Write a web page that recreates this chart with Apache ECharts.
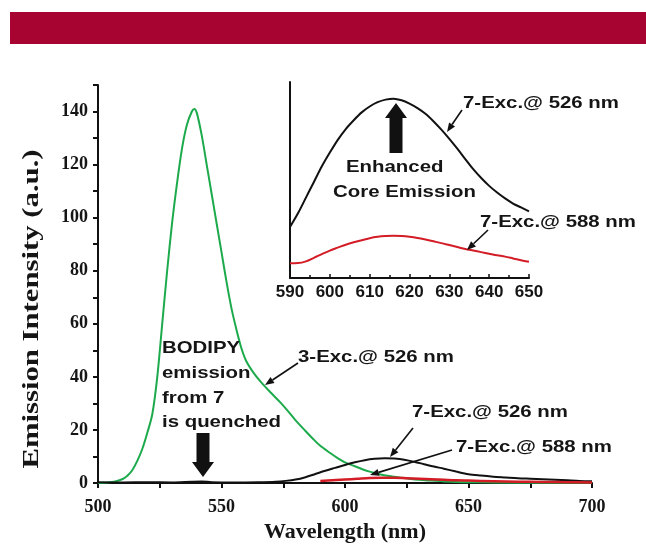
<!DOCTYPE html>
<html><head><meta charset="utf-8">
<script src="https://cdn.jsdelivr.net/npm/echarts@6/dist/echarts.min.js"></script>
<style>html,body{margin:0;padding:0;background:#fff}#c{width:646px;height:544px}</style>
</head><body><div id="c"></div>
<script>
// ---- Main panel data (wavelength nm, intensity a.u.) ----
const greenX = [500,504,507,510,512,514,516,518,520,522,524,526,528,530,532,534,536,538,539,540,542,544,546,548,550,552,554,556,558,560,563,566,570,574,577,580,584,587,590,594,597,600,604,607,610,614,618,622,626,630,635,640,645,650,660,680,700];
const greenY = [0,0.2,0.6,1.5,2.8,5,8.5,13,19,26,40,60,80,98,113,126,135,140,141,139.5,131,120,109,98,87,76,66,58,51,46,41.5,38,34,30.2,27,23.6,19.6,16.7,14,11.3,9.4,7.8,6.3,5.2,4.3,3.3,2.6,2.1,1.6,1.2,0.9,0.6,0.4,0.3,0.2,0.1,0.1];
const black526X = [500,510,520,530,538,542,546,555,565,572,576,580,584,588,592,596,600,604,608,612,616,620,624,628,632,636,640,645,650,655,660,665,670,675,680,685,690,695,700];
const black526Y = [0.3,0.2,0.3,0.2,0.5,0.6,0.3,0.2,0.3,0.5,0.8,1.3,2.2,3.4,4.6,5.7,6.8,7.8,8.6,9.1,9.3,9.2,8.8,8.0,7.1,6.2,5.4,4.3,3.3,2.8,2.4,2.1,1.8,1.6,1.4,1.2,1.0,0.8,0.7];
const red588X = [590,595,600,605,610,615,620,625,630,635,640,645,650,660,670,680,690,700];
const red588Y = [0.8,1.0,1.3,1.6,1.9,2.0,2.0,1.8,1.6,1.4,1.2,1.0,0.9,0.7,0.5,0.4,0.3,0.2];
// ---- Inset data (590-650 nm, relative scale) ----
const insetX = [590,592,594,596,598,600,602,604,606,608,610,612,614,616,618,620,622,624,626,628,630,632,634,636,638,640,642,644,646,648,650];
const insetBlackY = [26,33,41,49,57,64,70.5,76,80.5,84.5,87.5,89.7,91,91.5,90.7,89,86.7,83.8,80,75.7,71,66,60.7,55.5,51,47,43.6,40.6,38,36,34];
const insetRedY = [7.5,7.6,8.5,10.3,12.2,14,15.5,17,18.2,19.3,20.3,21,21.4,21.6,21.4,21,20.4,19.6,18.7,17.8,16.8,15.8,14.8,14,13.2,12.4,11.6,10.9,10,9.1,8.3];
// ---- Axis ticks ----
const mainXTicks = {min:500, max:700, interval:50};
const mainYTicks = {min:0, max:150, interval:20};
const insetXTicks = {min:590, max:650, interval:10};

const pairs = (xs, ys) => xs.map((x, i) => [x, ys[i]]);
const GREEN = '#1daa4c', RED = '#d31c25', BLACK = '#111';
const serif = '"Liberation Serif", "Times New Roman", serif';
const sans = '"Liberation Sans", Arial, sans-serif';

function txt(s, x, y) {
  return {type:'text', x:x, y:y, scaleX:1.2, z:50,
    style:{text:s, fill:'#151515', font:'bold 17px ' + sans, textAlign:'left', textVerticalAlign:'middle'}};
}
function arrow(x1, y1, x2, y2) {
  const a = Math.atan2(y2 - y1, x2 - x1), L = 9, W = 3.6;
  const bx = x2 - L * Math.cos(a), by = y2 - L * Math.sin(a);
  const px = -Math.sin(a), py = Math.cos(a);
  return [
    {type:'line', z:50, shape:{x1:x1, y1:y1, x2:bx, y2:by}, style:{stroke:'#111', lineWidth:1.6}},
    {type:'polygon', z:50, shape:{points:[[x2,y2],[bx+px*W,by+py*W],[bx-px*W,by-py*W]]}, style:{fill:'#111'}}
  ];
}
function bigArrow(cx, tip, base, end) {
  const hw = 11, sw = 6.5;
  return {type:'polygon', z:50, shape:{points:[[cx,tip],[cx+hw,base],[cx+sw,base],[cx+sw,end],[cx-sw,end],[cx-sw,base],[cx-hw,base]]}, style:{fill:'#111'}};
}

const chart = echarts.init(document.getElementById('c'), null, {renderer:'canvas'});
const axisLineStyle = {color:'#111', width:2};
chart.setOption({
  animation:false,
  backgroundColor:'#fff',
  grid:[
    {left:98, right:54, top:85, bottom:61, containLabel:false, outerBoundsMode:'none'},
    {left:290, right:117, top:82, bottom:266, containLabel:false, outerBoundsMode:'none'}
  ],
  xAxis:[
    {type:'value', gridIndex:0, min:mainXTicks.min, max:mainXTicks.max, interval:mainXTicks.interval,
     name:'Wavelength (nm)', nameLocation:'middle', nameGap:36,
     nameTextStyle:{fontFamily:serif, fontWeight:'bold', fontSize:22, color:'#151515'},
     axisLine:{lineStyle:axisLineStyle}, axisTick:{show:true, length:5, lineStyle:{color:'#111', width:2}},
     minorTick:{show:true, splitNumber:2, length:5, lineStyle:{color:'#111', width:2}},
     splitLine:{show:false}, minorSplitLine:{show:false},
     axisLabel:{fontFamily:serif, fontWeight:'bold', fontSize:18, color:'#151515', margin:15}},
    {type:'value', gridIndex:1, min:insetXTicks.min, max:insetXTicks.max, interval:insetXTicks.interval,
     axisLine:{lineStyle:axisLineStyle}, axisTick:{show:true, inside:true, length:4, lineStyle:{color:'#111', width:1.5}},
     minorTick:{show:true, splitNumber:2, length:3, lineStyle:{color:'#111', width:1.5}},
     splitLine:{show:false},
     axisLabel:{fontFamily:sans, fontWeight:'bold', fontSize:17, color:'#151515', margin:6}}
  ],
  yAxis:[
    {type:'value', gridIndex:0, min:mainYTicks.min, max:mainYTicks.max, interval:mainYTicks.interval,
     axisLine:{show:true, lineStyle:axisLineStyle}, axisTick:{show:true, length:5, lineStyle:{color:'#111', width:2}},
     minorTick:{show:true, splitNumber:2, length:5, lineStyle:{color:'#111', width:2}},
     splitLine:{show:false}, minorSplitLine:{show:false},
     axisLabel:{fontFamily:serif, fontWeight:'bold', fontSize:18, color:'#151515', margin:10, showMaxLabel:false}},
    {type:'value', gridIndex:1, min:0, max:100,
     axisLine:{show:true, lineStyle:axisLineStyle}, axisTick:{show:false}, axisLabel:{show:false}, splitLine:{show:false}}
  ],
  series:[
    {type:'line', name:'3-Exc.@ 526 nm', xAxisIndex:0, yAxisIndex:0, data:pairs(greenX, greenY), showSymbol:false, smooth:0.3, lineStyle:{color:GREEN, width:2}, z:2},
    {type:'line', name:'7-Exc.@ 526 nm', xAxisIndex:0, yAxisIndex:0, data:pairs(black526X, black526Y), showSymbol:false, smooth:0.3, lineStyle:{color:BLACK, width:2}, z:3},
    {type:'line', name:'7-Exc.@ 588 nm', xAxisIndex:0, yAxisIndex:0, data:pairs(red588X, red588Y), showSymbol:false, smooth:0.3, lineStyle:{color:RED, width:2.5}, z:4},
    {type:'line', name:'inset 7-Exc.@ 526 nm', xAxisIndex:1, yAxisIndex:1, data:pairs(insetX, insetBlackY), showSymbol:false, smooth:0.3, lineStyle:{color:BLACK, width:2}, z:3},
    {type:'line', name:'inset 7-Exc.@ 588 nm', xAxisIndex:1, yAxisIndex:1, data:pairs(insetX, insetRedY), showSymbol:false, smooth:0.3, lineStyle:{color:RED, width:2}, z:3}
  ],
  graphic:[].concat(
    [{type:'rect', shape:{x:10, y:12, width:636, height:32}, style:{fill:'#a80432'}, z:40}],
    [{type:'text', x:32, y:309, rotation:Math.PI/2, scaleX:1.28, z:50,
      style:{text:'Emission Intensity (a.u.)', fill:'#151515', font:'bold 24px ' + serif, textAlign:'center', textVerticalAlign:'middle'}}],
    [txt('7-Exc.@ 526 nm', 463, 103), txt('Enhanced', 346, 167), txt('Core Emission', 333, 192), txt('7-Exc.@ 588 nm', 480, 222),
     txt('BODIPY', 162, 348), txt('emission', 162, 373), txt('from 7', 162, 398), txt('is quenched', 162, 422),
     txt('3-Exc.@ 526 nm', 298, 357), txt('7-Exc.@ 526 nm', 412, 412), txt('7-Exc.@ 588 nm', 456, 447)],
    arrow(462, 110, 447, 132), arrow(488, 230, 467, 250), arrow(298, 363, 265, 385),
    arrow(413, 428, 390, 457), arrow(452, 450, 370, 475),
    [bigArrow(396, 103, 118, 153), bigArrow(203, 477, 462, 433)]
  )
});
</script>
</body></html>
